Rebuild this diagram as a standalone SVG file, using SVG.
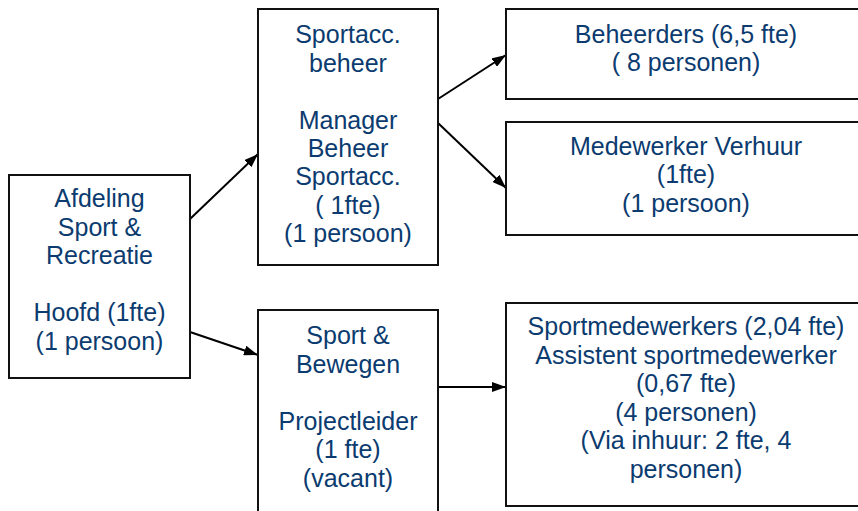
<svg xmlns="http://www.w3.org/2000/svg" width="858" height="511" viewBox="0 0 858 511">
<defs>
<style>
.box{fill:#fff;stroke:#111;stroke-width:2}
.t{font-family:"Liberation Sans",Arial,sans-serif;font-size:25px;fill:#0b3b6f;text-anchor:middle}
.c{stroke:#000;stroke-width:2;fill:none;marker-end:url(#ah)}
</style>
<marker id="ah" viewBox="0 0 14 10" refX="14" refY="5" markerWidth="14" markerHeight="10" markerUnits="userSpaceOnUse" orient="auto">
<path d="M0,0 L14,5 L0,10 z" fill="#000"/>
</marker>
</defs>
<rect width="858" height="511" fill="#fff"/>
<g id="connectors">
<line class="c" x1="190" y1="219" x2="258" y2="154"/>
<line class="c" x1="190" y1="332" x2="258" y2="355"/>
<line class="c" x1="438" y1="99" x2="506" y2="55"/>
<line class="c" x1="438" y1="123" x2="506" y2="188"/>
<line class="c" x1="438" y1="387" x2="506" y2="387"/>
</g>
<g id="afdeling">
<rect class="box" x="9" y="175" width="181" height="203"/>
<text class="t" x="99.5" y="207">Afdeling</text>
<text class="t" x="99.5" y="235.6">Sport &amp;</text>
<text class="t" x="99.5" y="264.2">Recreatie</text>
<text class="t" x="99.5" y="321.4">Hoofd (1fte)</text>
<text class="t" x="99.5" y="350">(1 persoon)</text>
</g>
<g id="sportacc">
<rect class="box" x="258" y="9" width="180" height="256"/>
<text class="t" x="348" y="43.3">Sportacc.</text>
<text class="t" x="348" y="71.7">beheer</text>
<text class="t" x="348" y="128.5">Manager</text>
<text class="t" x="348" y="156.9">Beheer</text>
<text class="t" x="348" y="185.3">Sportacc.</text>
<text class="t" x="348" y="213.7">( 1fte)</text>
<text class="t" x="348" y="242.1">(1 persoon)</text>
</g>
<g id="beheerders">
<rect class="box" x="506" y="9" width="360" height="90"/>
<text class="t" x="686" y="42.7">Beheerders (6,5 fte)</text>
<text class="t" x="686" y="71">( 8 personen)</text>
</g>
<g id="verhuur">
<rect class="box" x="506" y="122" width="360" height="113"/>
<text class="t" x="686" y="154.5">Medewerker Verhuur</text>
<text class="t" x="686" y="183">(1fte)</text>
<text class="t" x="686" y="211.5">(1 persoon)</text>
</g>
<g id="bewegen">
<rect class="box" x="258" y="310" width="180" height="215"/>
<text class="t" x="348" y="344">Sport &amp;</text>
<text class="t" x="348" y="372.6">Bewegen</text>
<text class="t" x="348" y="429.8">Projectleider</text>
<text class="t" x="348" y="458.4">(1 fte)</text>
<text class="t" x="348" y="487">(vacant)</text>
</g>
<g id="sportmedewerkers">
<rect class="box" x="506" y="303" width="360" height="203"/>
<text class="t" x="686" y="335">Sportmedewerkers (2,04 fte)</text>
<text class="t" x="686" y="363.5">Assistent sportmedewerker</text>
<text class="t" x="686" y="392">(0,67 fte)</text>
<text class="t" x="686" y="420.5">(4 personen)</text>
<text class="t" x="686" y="449">(Via inhuur: 2 fte, 4</text>
<text class="t" x="686" y="477.5">personen)</text>
</g>
</svg>
